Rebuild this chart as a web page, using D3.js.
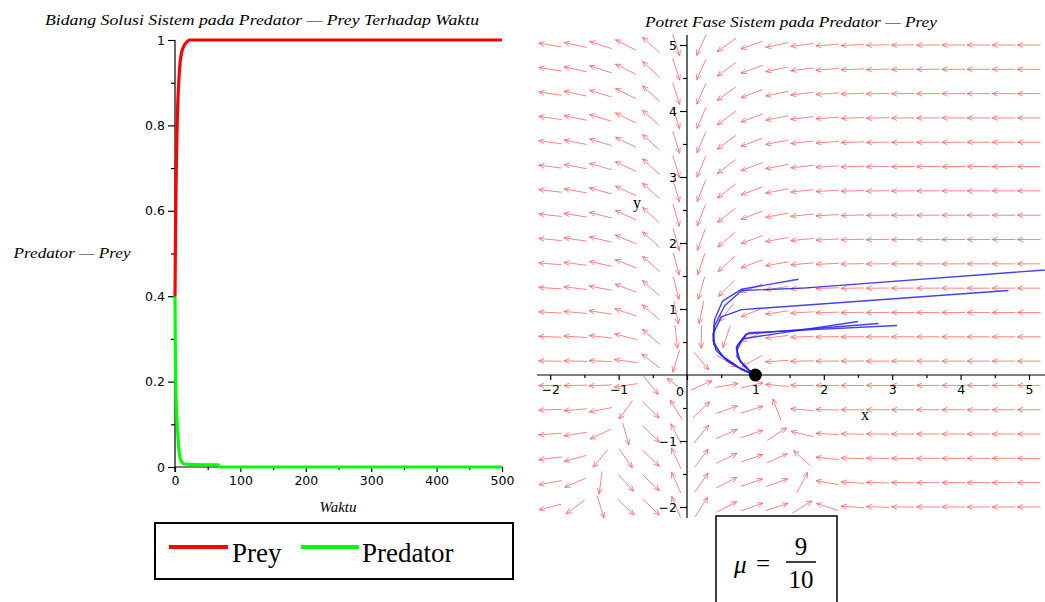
<!DOCTYPE html>
<html>
<head>
<meta charset="utf-8">
<script src="https://cdn.jsdelivr.net/npm/d3@7"></script>
<style>
  body { margin: 0; background: #fff; }
  svg { display: block; }
</style>
</head>
<body>
<svg id="chart" width="1045" height="602"></svg>
<script>
// ---------- time solution (left panel) ----------
const timeTicks = [0, 100, 200, 300, 400, 500];
const timeMinorTicks = [50, 150, 250, 350, 450];
const valueTicks = [0, 0.2, 0.4, 0.6, 0.8, 1];
const valueMinorTicks = [0.1, 0.3, 0.5, 0.7, 0.9];

const preyTime  = [0, 0.5, 1, 1.5, 2, 3, 4, 5, 6, 8, 10, 12, 15, 18, 22, 30, 500];
const preyValue = [0.40, 0.50, 0.58, 0.65, 0.70, 0.78, 0.84, 0.88, 0.91, 0.95, 0.97, 0.98, 0.99, 0.995, 1, 1, 1];
const predTime  = [0, 0.5, 1, 1.5, 2, 3, 4, 5, 6, 8, 10, 12, 15, 20, 40, 66, 68, 500];
const predValue = [0.40, 0.28, 0.21, 0.17, 0.145, 0.11, 0.085, 0.06, 0.04, 0.02, 0.013, 0.009, 0.007, 0.006, 0.005, 0.005, 0, 0];

const legendNames = ["Prey", "Predator"];
const legendColors = ["#ff0000", "#00ff00"];

// ---------- phase portrait (right panel) ----------
const phaseXTicks = [-2, -1, 0, 1, 2, 3, 4, 5];
const phaseXMinor = [-1.5, -0.5, 0.5, 1.5, 2.5, 3.5, 4.5];
const phaseYTicks = [-2, -1, 1, 2, 3, 4, 5];
const phaseYMinor = [-1.5, -0.5, 0.5, 1.5, 2.5, 3.5, 4.5];

// direction-field grid: 20 x 20 points on [-2,5] x [-2,5]
const fieldXRange = [-2, 5];
const fieldYRange = [-2, 5];
const fieldCount = 20;

// system parameters: x' = x(1-x) - a x y/(x+h),  y' = y(-mu + c x/(x+h))
const mu = 9 / 10;
const attackRate = 1;
const halfSaturation = 0.5;
const conversion = 1;

// solution curves (x = prey, y = predator)
const trajectories = [
  [[5.6, 1.62], [1.75, 1.32], [0.80, 1.28], [0.55, 1.05], [0.40, 0.74], [0.39, 0.46], [0.55, 0.26], [0.80, 0.08], [1, 0]],
  [[4.70, 1.28], [0.80, 0.99], [0.50, 0.88], [0.38, 0.62], [0.42, 0.38], [0.60, 0.20], [0.85, 0.06], [1, 0]],
  [[1.63, 1.45], [0.80, 1.30], [0.52, 1.12], [0.40, 0.83], [0.38, 0.52], [0.50, 0.30], [0.75, 0.12], [1, 0]],
  [[3.07, 0.75], [0.90, 0.64], [0.74, 0.46], [0.73, 0.28], [0.85, 0.12], [1, 0]],
  [[2.80, 0.78], [0.86, 0.62], [0.72, 0.42], [0.76, 0.24], [0.90, 0.08], [1, 0]],
  [[2.50, 0.81], [0.82, 0.55], [0.73, 0.38], [0.78, 0.20], [0.92, 0.06], [1, 0]]
];
const equilibrium = [1, 0];

const svg = d3.select("#chart");
const serif = "'Liberation Serif', 'Times New Roman', serif";
const sans = "'DejaVu Sans', Verdana, sans-serif";

// ================= left panel =================
const xT = d3.scaleLinear().domain([0, 500]).range([175, 502]);
const yV = d3.scaleLinear().domain([0, 1]).range([467, 40]);

svg.append("text")
  .attr("x", 262).attr("y", 25)
  .attr("text-anchor", "middle")
  .attr("font-family", serif).attr("font-style", "italic").attr("font-size", 15.5)
  .attr("textLength", 434).attr("lengthAdjust", "spacingAndGlyphs")
  .text("Bidang Solusi Sistem pada Predator \u2014 Prey Terhadap Waktu");

function styleAxis(g, size) {
  g.select(".domain").attr("stroke", "#000").attr("stroke-width", 1.2);
  g.selectAll(".tick line").attr("stroke", "#000").attr("stroke-width", 1.2);
  g.selectAll(".tick text").attr("font-family", sans).attr("font-size", size).attr("fill", "#000");
}

const leftY = svg.append("g").attr("transform", "translate(175,0)")
  .call(d3.axisLeft(yV).tickValues(valueTicks).tickSize(7).tickPadding(3)
    .tickFormat(d => d === 0 ? "0" : d === 1 ? "1" : d3.format(".1f")(d)));
styleAxis(leftY, 12.5);
leftY.select(".domain").attr("d", "M0,40V472");
svg.append("g").attr("transform", "translate(175,0)")
  .call(d3.axisLeft(yV).tickValues(valueMinorTicks).tickSize(4).tickFormat(""))
  .call(g => { g.select(".domain").remove(); g.selectAll("line").attr("stroke", "#000").attr("stroke-width", 1.2); });

const leftX = svg.append("g").attr("transform", "translate(0,467)")
  .call(d3.axisBottom(xT).tickValues(timeTicks).tickSize(5).tickPadding(4));
styleAxis(leftX, 12.5);
leftX.select(".domain").attr("d", "M175,0H502");
svg.append("g").attr("transform", "translate(0,467)")
  .call(d3.axisBottom(xT).tickValues(timeMinorTicks).tickSize(3).tickFormat(""))
  .call(g => { g.select(".domain").remove(); g.selectAll("line").attr("stroke", "#000").attr("stroke-width", 1.2); });

svg.append("text").attr("x", 338).attr("y", 512).attr("text-anchor", "middle")
  .attr("font-family", serif).attr("font-style", "italic").attr("font-size", 15)
  .text("Waktu");
svg.append("text").attr("x", 72).attr("y", 258).attr("text-anchor", "middle")
  .attr("font-family", serif).attr("font-style", "italic").attr("font-size", 15)
  .attr("textLength", 117).attr("lengthAdjust", "spacingAndGlyphs")
  .text("Predator \u2014 Prey");

const timeLine = d3.line().x(d => xT(d[0])).y(d => yV(d[1])).curve(d3.curveMonotoneX);
svg.append("path").datum(predTime.map((t, i) => [t, predValue[i]]))
  .attr("d", timeLine).attr("fill", "none").attr("stroke", legendColors[1]).attr("stroke-width", 3.2);
svg.append("path").datum(preyTime.map((t, i) => [t, preyValue[i]]))
  .attr("d", timeLine).attr("fill", "none").attr("stroke", legendColors[0]).attr("stroke-width", 3.2);

// legend
svg.append("rect").attr("x", 155).attr("y", 523).attr("width", 358).attr("height", 56)
  .attr("fill", "#fff").attr("stroke", "#000").attr("stroke-width", 2);
const legendX = [[169, 228, 232], [301, 359, 362]];
legendNames.forEach((name, i) => {
  svg.append("line").attr("x1", legendX[i][0]).attr("x2", legendX[i][1])
    .attr("y1", 547).attr("y2", 547).attr("stroke", legendColors[i]).attr("stroke-width", 4);
  svg.append("text").attr("x", legendX[i][2]).attr("y", 562)
    .attr("font-family", serif).attr("font-size", 27).text(name);
});

// ================= right panel =================
const xP = d3.scaleLinear().domain([0, 5]).range([687, 1029]);
const yP = d3.scaleLinear().domain([0, 5]).range([375, 45]);

svg.append("text")
  .attr("x", 791).attr("y", 27).attr("text-anchor", "middle")
  .attr("font-family", serif).attr("font-style", "italic").attr("font-size", 15.5)
  .attr("textLength", 292).attr("lengthAdjust", "spacingAndGlyphs")
  .text("Potret Fase Sistem pada Predator \u2014 Prey");

svg.append("defs").append("clipPath").attr("id", "phaseClip")
  .append("rect").attr("x", 530).attr("y", 30).attr("width", 515).attr("height", 492);

const phase = svg.append("g").attr("clip-path", "url(#phaseClip)");

// vector field of the system
function preyRate(x, y) { return x * (1 - x) - attackRate * x * y / (x + halfSaturation); }
function predRate(x, y) { return y * (-mu + conversion * x / (x + halfSaturation)); }

const gx = d3.range(fieldCount).map(i => fieldXRange[0] + i * (fieldXRange[1] - fieldXRange[0]) / (fieldCount - 1));
const gy = d3.range(fieldCount).map(i => fieldYRange[0] + i * (fieldYRange[1] - fieldYRange[0]) / (fieldCount - 1));
const pxPerX = xP(1) - xP(0), pxPerY = yP(0) - yP(1);
const arrowHalf = 11.5, barb = 6, barbAngle = 0.42;
const arrows = [];
gx.forEach(x => gy.forEach(y => {
  const u = preyRate(x, y) * pxPerX, v = -predRate(x, y) * pxPerY;
  const m = Math.hypot(u, v);
  if (!isFinite(m) || m === 0) return;
  arrows.push({ cx: xP(x), cy: yP(y), dx: u / m, dy: v / m });
}));
const arrowPath = a => {
  const tx = a.cx - a.dx * arrowHalf, ty = a.cy - a.dy * arrowHalf;
  const hx = a.cx + a.dx * arrowHalf, hy = a.cy + a.dy * arrowHalf;
  const ang = Math.atan2(a.dy, a.dx);
  const b1x = hx - barb * Math.cos(ang - barbAngle), b1y = hy - barb * Math.sin(ang - barbAngle);
  const b2x = hx - barb * Math.cos(ang + barbAngle), b2y = hy - barb * Math.sin(ang + barbAngle);
  return `M${tx},${ty}L${hx},${hy}M${b1x},${b1y}L${hx},${hy}L${b2x},${b2y}`;
};
phase.append("g").selectAll("path").data(arrows).join("path")
  .attr("d", arrowPath).attr("fill", "none")
  .attr("stroke", "#ff5a5a").attr("stroke-opacity", 0.75).attr("stroke-width", 1);

// axes
const rightX = svg.append("g").attr("transform", "translate(0,375)")
  .call(d3.axisBottom(xP).tickValues(phaseXTicks).tickSize(5).tickPadding(5)
    .tickFormat(d => d === 0 ? "" : d3.format("d")(d).replace("-", "\u2212")));
styleAxis(rightX, 12.5);
rightX.select(".domain").attr("d", "M537,0H1045");
svg.append("g").attr("transform", "translate(0,375)")
  .call(d3.axisBottom(xP).tickValues(phaseXMinor).tickSize(3).tickFormat(""))
  .call(g => { g.select(".domain").remove(); g.selectAll("line").attr("stroke", "#000").attr("stroke-width", 1.2); });
svg.append("text").attr("x", 680).attr("y", 396).attr("text-anchor", "middle")
  .attr("font-family", sans).attr("font-size", 12.5).text("0");

const rightY = svg.append("g").attr("transform", "translate(687,0)")
  .call(d3.axisLeft(yP).tickValues(phaseYTicks).tickSize(7).tickPadding(3)
    .tickFormat(d => d3.format("d")(d).replace("-", "\u2212")));
styleAxis(rightY, 12.5);
rightY.select(".domain").attr("d", "M0,35V518");
svg.append("g").attr("transform", "translate(687,0)")
  .call(d3.axisLeft(yP).tickValues(phaseYMinor).tickSize(4).tickFormat(""))
  .call(g => { g.select(".domain").remove(); g.selectAll("line").attr("stroke", "#000").attr("stroke-width", 1.2); });

svg.append("text").attr("x", 865).attr("y", 420).attr("text-anchor", "middle")
  .attr("font-family", serif).attr("font-size", 16).text("x");
svg.append("text").attr("x", 637).attr("y", 208).attr("text-anchor", "middle")
  .attr("font-family", serif).attr("font-size", 16).text("y");

// solution curves
const phaseLine = d3.line().x(d => xP(d[0])).y(d => yP(d[1]));
phase.append("g").selectAll("path").data(trajectories).join("path")
  .attr("d", phaseLine).attr("fill", "none")
  .attr("stroke", "#2020ff").attr("stroke-opacity", 0.85).attr("stroke-width", 1.4)
  .attr("stroke-linejoin", "round");

svg.append("circle").attr("cx", xP(equilibrium[0])).attr("cy", yP(equilibrium[1]))
  .attr("r", 6.5).attr("fill", "#000");

// parameter box
svg.append("rect").attr("x", 716).attr("y", 516).attr("width", 121).attr("height", 100)
  .attr("fill", "#fff").attr("stroke", "#000").attr("stroke-width", 1.5);
svg.append("text").attr("x", 734).attr("y", 573)
  .attr("font-family", serif).attr("font-style", "italic").attr("font-size", 25).text("\u03bc");
svg.append("text").attr("x", 756).attr("y", 572)
  .attr("font-family", serif).attr("font-size", 25).text("=");
svg.append("text").attr("x", 801).attr("y", 555).attr("text-anchor", "middle")
  .attr("font-family", serif).attr("font-size", 25).text("9");
svg.append("line").attr("x1", 786).attr("x2", 816).attr("y1", 562).attr("y2", 562)
  .attr("stroke", "#000").attr("stroke-width", 1.5);
svg.append("text").attr("x", 801).attr("y", 588).attr("text-anchor", "middle")
  .attr("font-family", serif).attr("font-size", 25).text("10");
</script>
</body>
</html>
